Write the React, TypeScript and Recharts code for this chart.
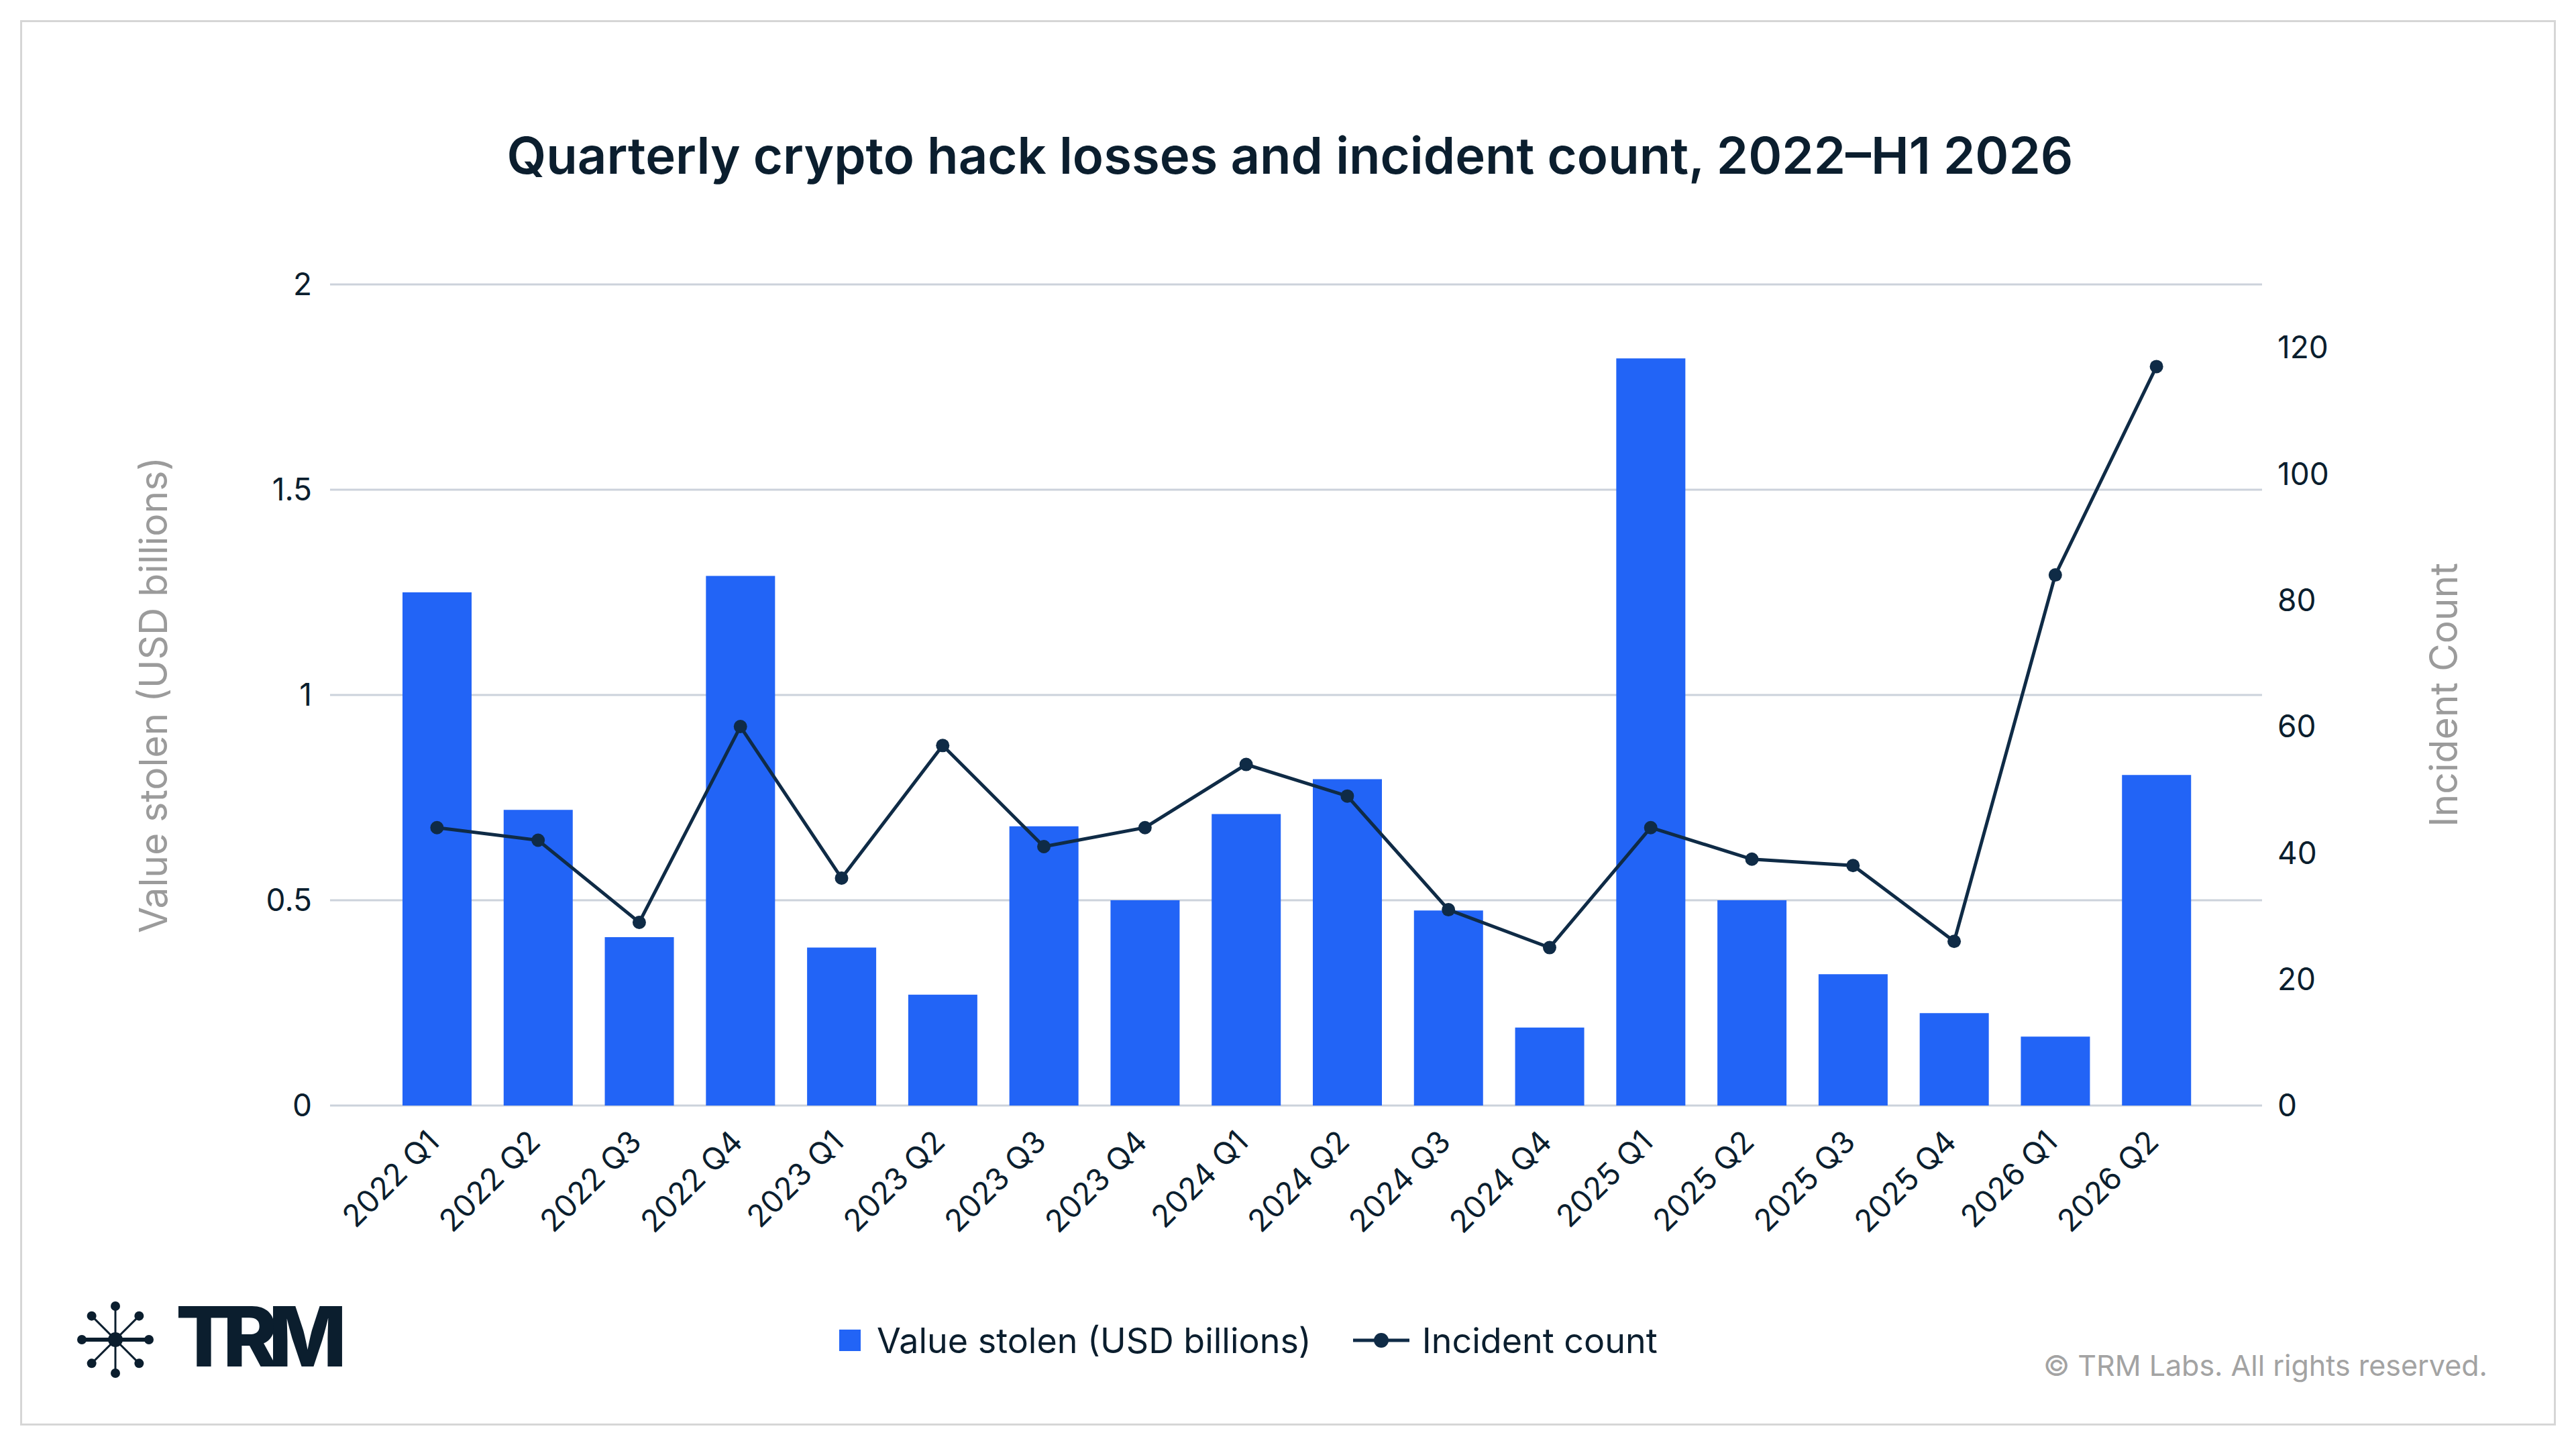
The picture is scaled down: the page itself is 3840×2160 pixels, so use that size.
import { ComposedChart, Bar, Line, XAxis, YAxis, CartesianGrid, Label } from 'recharts';

const quarters = [
  '2022 Q1', '2022 Q2', '2022 Q3', '2022 Q4',
  '2023 Q1', '2023 Q2', '2023 Q3', '2023 Q4',
  '2024 Q1', '2024 Q2', '2024 Q3', '2024 Q4',
  '2025 Q1', '2025 Q2', '2025 Q3', '2025 Q4',
  '2026 Q1', '2026 Q2',
];
const valueStolen = [
  1.25, 0.72, 0.41, 1.29,
  0.385, 0.27, 0.68, 0.5,
  0.71, 0.795, 0.475, 0.19,
  1.82, 0.5, 0.32, 0.225,
  0.168, 0.805,
];
const incidentCount = [
  44, 42, 29, 60,
  36, 57, 41, 44,
  54, 49, 31, 25,
  44, 39, 38, 26,
  84, 117,
];
const leftTicks = [0, 0.5, 1, 1.5, 2];
const rightTicks = [0, 20, 40, 60, 80, 100, 120];

const data = quarters.map((q, i) => ({ q, value: valueStolen[i], count: incidentCount[i] }));

const INK = '#0b1e2e';
const BLUE = '#2264f6';
const NAVY = '#0f2b46';
const GREY = '#9b9b9b';
const FONT = 'Inter, "Noto Sans", sans-serif';

function AxisTitle(props: any) {
  const { viewBox, value, offsetX } = props;
  const cx = viewBox.x + offsetX;
  const cy = viewBox.y + viewBox.height / 2;
  return (
    <text
      x={cx}
      y={cy}
      transform={`rotate(-90 ${cx} ${cy})`}
      textAnchor="middle"
      dominantBaseline="central"
      fill={GREY}
      fontSize={57}
      fontFamily={FONT}
    >
      {value}
    </text>
  );
}

// rotated quarter label, anchored at the end of its baseline
function QuarterTick(props: any) {
  const { x, y, payload } = props;
  const bx = x + 6;
  const by = y + 57;
  return (
    <text
      x={bx}
      y={by}
      transform={`rotate(-45 ${bx} ${by})`}
      textAnchor="end"
      fill={INK}
      fontSize={46}
      fontFamily={FONT}
    >
      {payload.value}
    </text>
  );
}

function Logo() {
  const c = 60;
  const r = 50;
  const spokes = [0, 45, 90, 135, 180, 225, 270, 315];
  return (
    <svg width={120} height={120} style={{ position: 'absolute', left: 112, top: 1937 }}>
      {spokes.map(a => {
        const x = c + r * Math.cos((a * Math.PI) / 180);
        const y = c + r * Math.sin((a * Math.PI) / 180);
        return (
          <g key={a}>
            <line x1={c} y1={c} x2={x} y2={y} stroke={INK} strokeWidth={a % 180 === 0 ? 6 : 3} />
            <circle cx={x} cy={y} r={7} fill={INK} />
          </g>
        );
      })}
      <circle cx={c} cy={c} r={11} fill={INK} />
    </svg>
  );
}

export default function App() {
  return (
    <div
      style={{
        position: 'absolute',
        left: 0,
        top: 0,
        width: 3840,
        height: 2160,
        background: '#fff',
        fontFamily: FONT,
        overflow: 'hidden',
      }}
    >
      <div
        style={{
          position: 'absolute',
          left: 30,
          top: 30,
          width: 3780,
          height: 2095,
          border: '3px solid #d6d6d6',
          boxSizing: 'border-box',
        }}
      />
      <div
        style={{
          position: 'absolute',
          left: 0,
          top: 193,
          width: 3846,
          textAlign: 'center',
          fontSize: 76,
          lineHeight: '76px',
          fontWeight: 600,
          color: INK,
        }}
      >
        Quarterly crypto hack losses and incident count, 2022–H1 2026
      </div>

      <div style={{ position: 'absolute', left: 0, top: 0 }}>
        <ComposedChart
          width={3840}
          height={2160}
          data={data}
          margin={{ top: 424, right: 168, bottom: 262, left: 200 }}
        >
          <CartesianGrid yAxisId="left" vertical={false} stroke="#ccd2db" strokeWidth={3} />
          <XAxis
            dataKey="q"
            axisLine={false}
            tickLine={false}
            tickSize={0}
            tickMargin={0}
            height={250}
            interval={0}
            padding={{ left: 84, right: 82 }}
            tick={<QuarterTick />}
          />
          <YAxis
            yAxisId="left"
            orientation="left"
            width={292}
            domain={[0, 2]}
            ticks={leftTicks}
            axisLine={false}
            tickLine={false}
            tickSize={0}
            tickMargin={27}
            tick={{ fill: INK, fontSize: 46, fontFamily: FONT }}
          >
            <Label content={<AxisTitle offsetX={28} />} value="Value stolen (USD billions)" />
          </YAxis>
          <YAxis
            yAxisId="right"
            orientation="right"
            width={300}
            domain={[0, 130]}
            ticks={rightTicks}
            axisLine={false}
            tickLine={false}
            tickSize={0}
            tickMargin={23}
            tick={{ fill: INK, fontSize: 46, fontFamily: FONT, textAnchor: 'start' }}
          >
            <Label content={<AxisTitle offsetX={270} />} value="Incident Count" />
          </YAxis>
          <Bar yAxisId="left" dataKey="value" fill={BLUE} barSize={103} isAnimationActive={false} />
          <Line
            yAxisId="right"
            dataKey="count"
            type="linear"
            stroke={NAVY}
            strokeWidth={5}
            dot={{ r: 10, fill: NAVY, stroke: NAVY, strokeWidth: 0 }}
            activeDot={false}
            isAnimationActive={false}
          />
        </ComposedChart>
      </div>

      <Logo />
      <div
        style={{
          position: 'absolute',
          left: 262,
          top: 1930,
          fontSize: 124,
          lineHeight: '124px',
          fontWeight: 800,
          letterSpacing: -14,
          color: INK,
        }}
      >
        TRM
      </div>

      <div
        style={{
          position: 'absolute',
          left: 1251,
          top: 1968,
          height: 60,
          display: 'flex',
          alignItems: 'center',
          fontSize: 52,
          color: INK,
          whiteSpace: 'nowrap',
        }}
      >
        <span style={{ width: 32, height: 32, background: BLUE, display: 'inline-block', marginRight: 24 }} />
        <span>Value stolen (USD billions)</span>
        <svg width={84} height={30} style={{ marginLeft: 62, marginRight: 19 }}>
          <line x1={0} y1={15} x2={84} y2={15} stroke={NAVY} strokeWidth={5} />
          <circle cx={42} cy={15} r={11} fill={NAVY} />
        </svg>
        <span>Incident count</span>
      </div>

      <div
        style={{
          position: 'absolute',
          right: 3840 - 3708,
          top: 2009,
          fontSize: 43,
          lineHeight: '52px',
          color: '#a3a3a3',
          whiteSpace: 'nowrap',
        }}
      >
        © TRM Labs. All rights reserved.
      </div>
    </div>
  );
}
